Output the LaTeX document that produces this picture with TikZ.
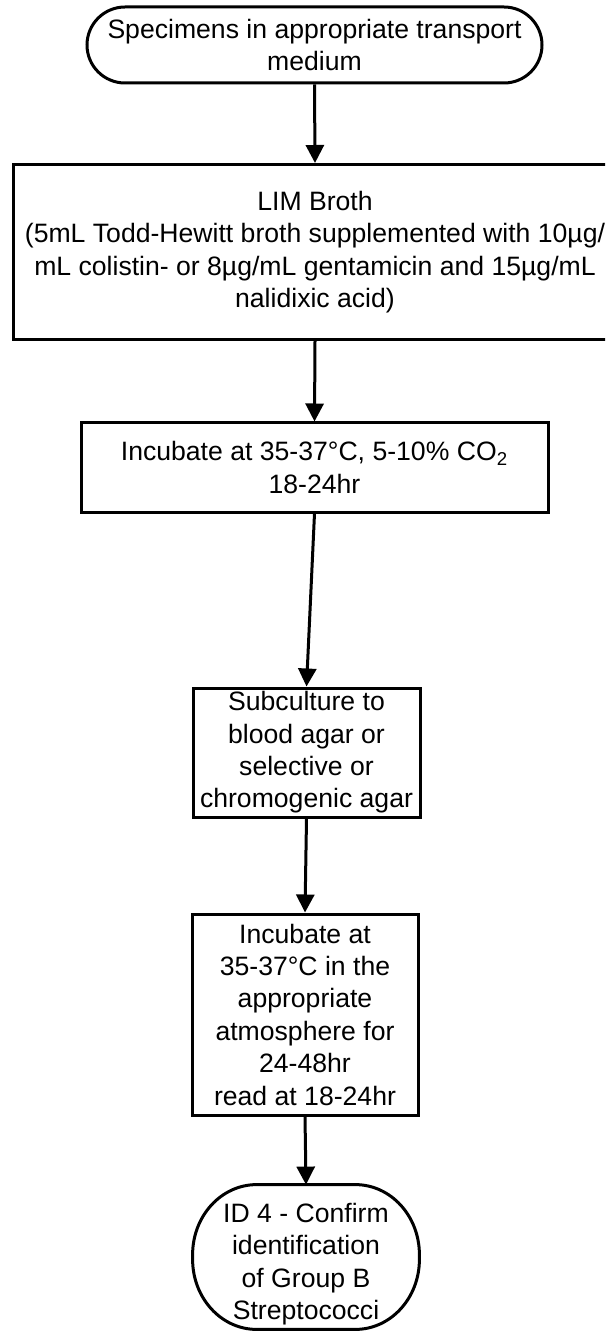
\documentclass[tikz,border=0pt]{standalone}
\usepackage{fontspec}
\setmainfont{Liberation Sans}
\usetikzlibrary{arrows.meta}
\begin{document}
\begin{tikzpicture}[x=0.5pt,y=-0.5pt,
  txt/.style={align=center, inner sep=0pt, font=\fontsize{13.3}{16.2}\selectfont},
  box/.style={txt, draw, line width=1.5pt},
  term/.style={box, rounded corners=#1},
  shapeonly/.style={draw=none, inner sep=0pt},
  outline/.style={line width=1.5pt},
  arr/.style={line width=1.5pt, -{Triangle[width=9pt,length=9pt]}}]
\useasboundingbox (0,0) rectangle (605,1331);
\fill[white] (0,0) rectangle (605,1331);
\clip (0,0) rectangle (605,1331);

\node[term=19pt, minimum width=227.5pt, minimum height=38pt] (T1) at (314.5,45)
  {Specimens in appropriate transport\\medium};
\node[box, minimum width=301.5pt, minimum height=87.5pt] (B2) at (315,252)
  {LIM Broth\\(5mL Todd-Hewitt broth supplemented with 10µg/\\mL colistin- or 8µg/mL gentamicin and 15µg/mL\\nalidixic acid)};
\node[box, minimum width=233.5pt, minimum height=44.5pt] (B3) at (314.5,467.5)
  {Incubate at 35-37°C, 5-10\% CO\textsubscript{2}\\18-24hr};
\node[box, minimum width=113.5pt, minimum height=64.5pt] (B4) at (306.5,752.5)
  {Subculture to\\blood agar or\\selective or\\chromogenic agar};
\node[box, minimum width=113pt, minimum height=100.5pt] (B5) at (305,1014.5)
  {Incubate at\\35-37°C in the\\appropriate\\atmosphere for\\24-48hr\\read at 18-24hr};
\node[shapeonly, minimum width=113pt, minimum height=72pt] (T6) at (306,1257) {};
\node[txt] (T6t) at ([yshift=-3.5pt]T6.center)
  {ID 4 - Confirm\\identification\\of Group B\\Streptococci};
\draw[outline] ([xshift=32pt]T6.north west) -- ([xshift=-32pt]T6.north east)
  arc[start angle=90,end angle=0,x radius=32pt,y radius=35pt]
  -- ([yshift=35pt]T6.south east)
  arc[start angle=0,end angle=-90,x radius=32pt,y radius=35pt]
  -- ([xshift=32pt]T6.south west)
  arc[start angle=270,end angle=180,x radius=32pt,y radius=35pt]
  -- ([yshift=-35pt]T6.north west)
  arc[start angle=180,end angle=90,x radius=32pt,y radius=35pt] -- cycle;

\draw[arr] (T1.south) -- (B2.north);
\draw[arr] (B2.south) -- (B3.north);
\draw[arr] (B3.south) -- (B4.north);
\draw[arr] (B4.south) -- (B5.north);
\draw[arr] (B5.south) -- (T6.north);
\end{tikzpicture}
\end{document}
